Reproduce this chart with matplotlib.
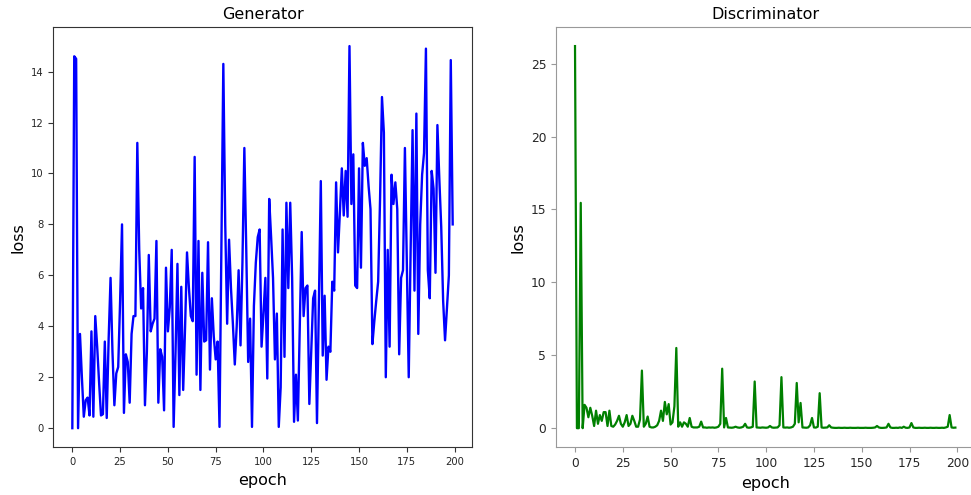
import matplotlib
matplotlib.use("Agg")
import matplotlib.pyplot as plt

# generator loss per epoch
gen_loss = [
    0.0, 14.6, 14.5, 0.0, 3.7, 2.0, 0.45, 1.1, 1.2, 0.5,
    3.8, 0.45, 4.4, 3.2, 1.8, 0.5, 0.55, 3.4, 0.4, 3.5,
    5.9, 3.0, 0.9, 2.15, 2.4, 5.0, 8.0, 0.6, 2.9, 2.6,
    1.0, 3.7, 4.4, 4.4, 11.2, 7.0, 4.7, 5.5, 0.9, 3.0,
    6.8, 3.8, 4.1, 4.3, 7.35, 1.0, 3.1, 2.8, 0.7, 6.3,
    3.8, 4.75, 7.0, 0.05, 3.0, 6.45, 1.3, 5.55, 1.5, 4.0,
    6.9, 5.5, 4.4, 4.2, 10.65, 2.1, 7.35, 1.5, 6.1, 3.4,
    3.45, 7.3, 2.3, 5.1, 3.6, 2.7, 3.4, 0.05, 7.0, 14.3,
    8.0, 4.1, 7.4, 5.5, 4.1, 2.5, 4.0, 6.2, 3.25, 6.5,
    11.0, 7.0, 2.6, 4.3, 0.05, 4.8, 6.5, 7.5, 7.8, 3.2,
    4.5, 5.9, 1.95, 9.0, 7.5, 5.9, 2.7, 4.5, 0.05, 1.6,
    7.8, 2.8, 8.85, 5.5, 8.85, 5.9, 0.25, 2.1, 0.3, 4.0,
    7.7, 4.4, 5.5, 5.6, 0.95, 3.0, 5.1, 5.4, 0.2, 5.0,
    9.7, 2.85, 5.2, 1.9, 3.2, 3.0, 5.75, 5.4, 9.65, 6.9,
    8.5, 10.2, 8.35, 10.1, 8.3, 15.0, 8.8, 10.75, 5.6, 5.5,
    10.2, 6.3, 11.2, 10.3, 10.6, 9.5, 8.6, 3.3, 4.2, 5.0,
    5.75, 9.0, 13.0, 11.6, 2.0, 7.0, 3.2, 9.95, 8.8, 9.65,
    8.6, 2.9, 5.9, 6.2, 11.0, 6.5, 2.0, 7.0, 11.7, 5.4,
    12.35, 3.7, 8.0, 9.95, 10.8, 14.9, 6.2, 5.1, 10.1, 9.4,
    6.1, 11.9, 9.8, 7.9, 5.0, 3.45, 4.7, 6.0, 14.45, 8.0,
]

# discriminator loss per epoch
disc_loss = [
    26.2, 0.0, 0.0, 15.45, 0.0, 1.6, 1.4, 0.75, 1.4, 0.85,
    0.15, 1.2, 0.3, 0.9, 0.5, 1.1, 1.1, 0.15, 1.2, 0.15,
    0.1, 0.25, 0.5, 0.85, 0.3, 0.1, 0.4, 0.9, 0.15, 0.3,
    0.85, 0.5, 0.1, 0.1, 0.6, 3.95, 0.1, 0.3, 0.8, 0.1,
    0.05, 0.05, 0.1, 0.2, 0.5, 1.2, 0.5, 1.8, 0.95, 1.65,
    0.25, 0.4, 1.5, 5.5, 0.1, 0.4, 0.1, 0.4, 0.3, 0.1,
    0.7, 0.1, 0.05, 0.05, 0.05, 0.1, 0.45, 0.05, 0.05, 0.03,
    0.05, 0.04, 0.05, 0.03, 0.05, 0.1, 0.3, 4.08, 0.05, 0.7,
    0.05, 0.04, 0.03, 0.05, 0.1, 0.05, 0.03, 0.05, 0.1, 0.3,
    0.05, 0.03, 0.05, 0.1, 3.2, 0.05, 0.04, 0.03, 0.05, 0.04,
    0.03, 0.05, 0.15, 0.05, 0.03, 0.04, 0.05, 0.2, 3.5, 0.05,
    0.04, 0.05, 0.03, 0.05, 0.1, 0.3, 3.1, 0.4, 1.73, 0.05,
    0.04, 0.03, 0.05, 0.2, 0.7, 0.05, 0.04, 0.1, 2.4, 0.05,
    0.03, 0.04, 0.05, 0.2, 0.05, 0.03, 0.02, 0.02, 0.03, 0.02,
    0.02, 0.03, 0.02, 0.02, 0.03, 0.02, 0.02, 0.02, 0.03, 0.02,
    0.02, 0.02, 0.03, 0.02, 0.02, 0.02, 0.03, 0.05, 0.15, 0.05,
    0.02, 0.02, 0.03, 0.05, 0.3, 0.05, 0.02, 0.02, 0.03, 0.02,
    0.05, 0.02, 0.1, 0.03, 0.02, 0.05, 0.35, 0.05, 0.02, 0.02,
    0.03, 0.02, 0.02, 0.03, 0.02, 0.02, 0.03, 0.02, 0.02, 0.03,
    0.02, 0.02, 0.03, 0.02, 0.05, 0.1, 0.9, 0.05, 0.03, 0.04,
]

epochs = list(range(len(gen_loss)))
xticks = [0, 25, 50, 75, 100, 125, 150, 175, 200]

fig = plt.figure(figsize=(9.71, 4.95), dpi=100)

# left panel: plain matplotlib look
ax1 = fig.add_axes([0.0549, 0.0964, 0.4309, 0.8491])
ax1.plot(epochs, gen_loss, color="blue", lw=1.7)
ax1.set_title("Generator", fontsize=11.5)
ax1.set_xlabel("epoch", fontsize=11.5)
ax1.set_ylabel("loss", fontsize=11.5)
ax1.tick_params(labelsize=7.2, length=3.5, color="#333333", labelcolor="#262626")
for s in ax1.spines.values():
    s.set_color("#333333")
ax1.set_xticks(xticks)

# right panel: grey spines, bigger ticks; right edge runs off the canvas
ax2 = fig.add_axes([0.5726, 0.0964, 0.4309, 0.8491])
ax2.plot(epochs, disc_loss, color="green", lw=1.6)
ax2.set_title("Discriminator", fontsize=11.5)
ax2.set_xlabel("epoch", fontsize=11.5)
ax2.set_ylabel("loss", fontsize=11.5)
ax2.tick_params(labelsize=8.8, length=3.5, color="#999999", labelcolor="#262626")
for s in ax2.spines.values():
    s.set_color("#999999")
ax2.spines["right"].set_visible(False)
ax2.set_xticks(xticks)

fig.savefig("out.png", dpi=100)
